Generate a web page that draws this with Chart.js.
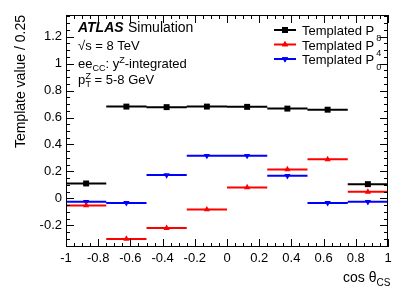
<!DOCTYPE html>
<html>
<head>
<meta charset="utf-8">
<script src="https://cdn.jsdelivr.net/npm/chart.js@4.4.0/dist/chart.umd.min.js"></script>
<style>
  body { margin: 0; background: #fff; }
</style>
</head>
<body>
<canvas id="myChart" width="409" height="294"></canvas>
<script>
// bins in cos theta_CS
const binEdges = [-1, -0.75, -0.5, -0.25, 0, 0.25, 0.5, 0.75, 1];
const binCenters = [-0.875, -0.625, -0.375, -0.125, 0.125, 0.375, 0.625, 0.875];

// template values / 0.25
const templP = [0.111, 0.681, 0.677, 0.681, 0.679, 0.666, 0.658, 0.106];
const templP8 = [-0.052, -0.300, -0.220, -0.082, 0.082, 0.215, 0.290, 0.049];
const templP04 = [-0.025, -0.033, 0.173, 0.317, 0.317, 0.168, -0.033, -0.025];

// tick labels
const xTicks = [-1, -0.8, -0.6, -0.4, -0.2, 0, 0.2, 0.4, 0.6, 0.8, 1];
const yTicks = [-0.2, 0, 0.2, 0.4, 0.6, 0.8, 1, 1.2];

const FONT = "'Liberation Sans', Arial, sans-serif";

// horizontal bars across each bin, broken between bins
function binSegments(vals) {
  let pts = [];
  for (let i = 0; i < vals.length; i++) {
    pts.push({ x: binEdges[i], y: vals[i] });
    pts.push({ x: binEdges[i + 1], y: vals[i] });
    pts.push({ x: binEdges[i + 1], y: null });
  }
  return pts;
}
function binPoints(vals) {
  return vals.map((v, i) => ({ x: binCenters[i], y: v }));
}

const series = [
  { label: "Templated P", vals: templP, color: "#000000", style: "rect", radius: 4.2, rot: 0 },
  { label: "Templated P", vals: templP8, color: "#ff0000", style: "triangle", radius: 3.6, rot: 0 },
  { label: "Templated P", vals: templP04, color: "#0000ff", style: "triangle", radius: 3.6, rot: 180 },
];

let datasets = [];
series.forEach(s => {
  datasets.push({
    type: "line",
    data: binSegments(s.vals),
    borderColor: s.color,
    borderWidth: 2,
    pointRadius: 0,
    spanGaps: false,
    fill: false,
  });
  datasets.push({
    type: "scatter",
    data: binPoints(s.vals),
    pointStyle: s.style,
    rotation: s.rot,
    pointRadius: s.radius,
    backgroundColor: s.color,
    borderColor: s.color,
    borderWidth: 0,
  });
});

// draws text made of pieces (normal / sub / sup)
function richText(ctx, parts, x, y) {
  let cx = x;
  parts.forEach(p => {
    ctx.font = p.font;
    ctx.fillText(p.t, cx, y + (p.dy || 0));
    cx += p.adv !== undefined ? p.adv : ctx.measureText(p.t).width;
  });
  return cx;
}

const frameTicks = {
  id: "frameTicks",
  afterDatasetsDraw(chart) {
    const ctx = chart.ctx;
    const a = chart.chartArea;
    const x = chart.scales.x, y = chart.scales.y;
    ctx.save();
    ctx.strokeStyle = "#000";
    ctx.lineWidth = 1;
    ctx.strokeRect(a.left + 0.5, a.top + 0.5, a.right - a.left - 1, a.bottom - a.top - 1);
    ctx.beginPath();
    for (let i = 0; i <= 40; i++) {
      const px = Math.round(x.getPixelForValue(-1 + i * 0.05)) + 0.5;
      const len = i % 4 === 0 ? 8 : 4;
      ctx.moveTo(px, a.bottom); ctx.lineTo(px, a.bottom - len);
      ctx.moveTo(px, a.top); ctx.lineTo(px, a.top + len);
    }
    for (let i = -7; i <= 27; i++) {
      const py = Math.round(y.getPixelForValue(i * 0.05)) + 0.5;
      const len = i % 4 === 0 ? 8 : 4;
      ctx.moveTo(a.left, py); ctx.lineTo(a.left + len, py);
      ctx.moveTo(a.right, py); ctx.lineTo(a.right - len, py);
    }
    ctx.stroke();

    ctx.fillStyle = "#000";
    ctx.textBaseline = "alphabetic";
    ctx.textAlign = "left";
    // labels top left
    richText(ctx, [
      { t: "ATLAS", font: "bold italic 14px " + FONT, adv: 50 },
      { t: "Simulation", font: "14px " + FONT },
    ], 78, 32);
    richText(ctx, [{ t: "\u221As = 8 TeV", font: "13px " + FONT }], 78, 50);
    richText(ctx, [
      { t: "ee", font: "13px " + FONT },
      { t: "CC", font: "9px " + FONT, dy: 3 },
      { t: ": y", font: "13px " + FONT },
      { t: "Z", font: "9px " + FONT, dy: -5 },
      { t: "-integrated", font: "13px " + FONT },
    ], 78, 68);
    richText(ctx, [
      { t: "p", font: "13px " + FONT, adv: 7.5 },
      { t: "Z", font: "9px " + FONT, dy: -5, adv: 0 },
      { t: "T", font: "9px " + FONT, dy: 3 },
      { t: " = 5-8 GeV", font: "13px " + FONT },
    ], 78, 84);

    // legend
    const rows = [30, 44.5, 59];
    const supText = ["8", "4", "0"];
    series.forEach((s, i) => {
      const ry = rows[i];
      ctx.strokeStyle = s.color;
      ctx.lineWidth = 2;
      ctx.beginPath();
      ctx.moveTo(274, ry); ctx.lineTo(296, ry);
      ctx.stroke();
      ctx.fillStyle = s.color;
      Chart.helpers.drawPoint(ctx, { pointStyle: s.style, radius: s.radius, rotation: s.rot, borderWidth: 0 }, 285, ry);
      ctx.fill();
      ctx.fillStyle = "#000";
      const endX = richText(ctx, [{ t: s.label, font: "13px " + FONT }], 302, ry + 5);
      ctx.font = "9px " + FONT;
      ctx.fillText(supText[i], endX + 2, ry + 11);
    });

    // axis titles
    richText(ctx, [
      { t: "cos \u03B8", font: "14px " + FONT },
      { t: "CS", font: "10px " + FONT, dy: 4 },
    ], 343, 282);
    ctx.translate(25, 15);
    ctx.rotate(-Math.PI / 2);
    ctx.textAlign = "right";
    ctx.font = "14px " + FONT;
    ctx.fillText("Template value / 0.25", 0, 0);
    ctx.restore();
  }
};

const ctx = document.getElementById("myChart").getContext("2d");
const myChart = new Chart(ctx, {
  data: { datasets: datasets },
  options: {
    responsive: false,
    animation: false,
    devicePixelRatio: 1,
    layout: { padding: { top: 15, right: 21, left: 0, bottom: 0 } },
    plugins: { legend: { display: false }, tooltip: { enabled: false } },
    scales: {
      x: {
        type: "linear",
        min: -1,
        max: 1,
        grid: { display: false, drawTicks: false },
        border: { display: false },
        afterBuildTicks: s => { s.ticks = xTicks.map(v => ({ value: v })); },
        afterFit: s => { s.height = 47; },
        ticks: {
          autoSkip: false, maxRotation: 0, padding: 4, color: "#000",
          font: { family: FONT, size: 13 },
          callback: v => String(v),
        },
      },
      y: {
        type: "linear",
        min: -0.36,
        max: 1.36,
        grid: { display: false, drawTicks: false },
        border: { display: false },
        afterBuildTicks: s => { s.ticks = yTicks.map(v => ({ value: v })); },
        afterFit: s => { s.width = 66; },
        ticks: {
          padding: 4, color: "#000",
          font: { family: FONT, size: 13 },
          callback: v => String(v),
        },
      },
    },
  },
  plugins: [frameTicks],
});
</script>
</body>
</html>
